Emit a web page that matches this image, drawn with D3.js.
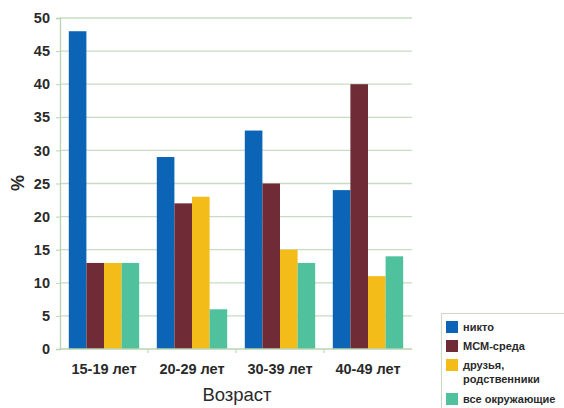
<!DOCTYPE html>
<html>
<head>
<meta charset="utf-8">
<script src="https://cdn.jsdelivr.net/npm/d3@7"></script>
<style>
  body { margin: 0; background: #fff; }
  svg { display: block; font-family: "Liberation Sans", Arial, sans-serif; }
</style>
</head>
<body>
<svg id="chart" width="564" height="408"></svg>
<script>
// Age groups and answer series (percent)
const categories = ["15-19 лет", "20-29 лет", "30-39 лет", "40-49 лет"];
const seriesNames = ["никто", "МСМ-среда", "друзья,\nродственники", "все окружающие"];
const nikto      = [48, 29, 33, 24];
const msm        = [13, 22, 25, 40];
const druzya     = [13, 23, 15, 11];
const vse        = [13, 6, 13, 14];
const yTicks = [0, 5, 10, 15, 20, 25, 30, 35, 40, 45, 50];
const colors = ["#0b64b5", "#6f2b36", "#f4bc18", "#4fc19d"];

const seriesValues = [nikto, msm, druzya, vse];

const svg = d3.select("#chart");
const plotLeft = 60, plotRight = 412, plotTop = 18, plotBottom = 349;

const x = d3.scaleBand().domain(categories).range([plotLeft, plotRight]).paddingInner(0.2).paddingOuter(0.1);
const x1 = d3.scaleBand().domain(d3.range(seriesNames.length)).range([0, x.bandwidth()]);
const y = d3.scaleLinear().domain([0, 50]).range([plotBottom, plotTop]);

// horizontal gridlines
svg.append("g").selectAll("line").data(yTicks.filter(d => d > 0)).join("line")
  .attr("x1", plotLeft).attr("x2", plotRight)
  .attr("y1", d => y(d)).attr("y2", d => y(d))
  .attr("stroke", "#c9dcc2").attr("stroke-width", 1.3);

// bars
const groups = svg.append("g").selectAll("g").data(categories).join("g")
  .attr("transform", d => `translate(${x(d)},0)`);
groups.selectAll("rect")
  .data((c, ci) => seriesValues.map((vals, si) => ({ si, v: vals[ci] })))
  .join("rect")
  .attr("x", d => x1(d.si))
  .attr("width", x1.bandwidth())
  .attr("y", d => y(d.v))
  .attr("height", d => y(0) - y(d.v))
  .attr("fill", d => colors[d.si]);

// y axis
const yAxis = svg.append("g").attr("transform", `translate(${plotLeft},0)`)
  .call(d3.axisLeft(y).tickValues(yTicks).tickSize(4).tickPadding(6));
yAxis.select(".domain").attr("stroke", "#b9d3b0").attr("stroke-width", 1.3);
yAxis.selectAll(".tick line").attr("stroke", "#b9d3b0");
yAxis.selectAll("text").attr("font-size", 14.5).attr("font-weight", "bold").attr("fill", "#2a2a2a");

// x axis with separators between groups
const xAxisG = svg.append("g").attr("transform", `translate(0,${plotBottom})`);
xAxisG.append("line").attr("x1", plotLeft).attr("x2", plotRight).attr("stroke", "#b9d3b0").attr("stroke-width", 1.3);
const sepPositions = categories.slice(1).map(c => x(c) - x.step() * x.paddingInner() / 2);
xAxisG.selectAll("line.sep").data(sepPositions).join("line").attr("class", "sep")
  .attr("x1", d => d).attr("x2", d => d).attr("y1", 0).attr("y2", 4)
  .attr("stroke", "#b9d3b0");
xAxisG.selectAll("text").data(categories).join("text")
  .attr("x", d => x(d) + x.bandwidth() / 2).attr("y", 25)
  .attr("text-anchor", "middle").attr("font-size", 14.5).attr("font-weight", "bold")
  .attr("fill", "#2a2a2a").text(d => d);

// axis titles
svg.append("text").attr("x", 237).attr("y", 401).attr("text-anchor", "middle")
  .attr("font-size", 18.5).attr("fill", "#2a2a2a").text("Возраст");
svg.append("text").attr("transform", "translate(24,183) rotate(-90)")
  .attr("text-anchor", "middle").attr("font-size", 18).attr("font-weight", "bold")
  .attr("fill", "#2a2a2a").text("%");

// legend
const legend = svg.append("g");
legend.append("rect").attr("x", 441.5).attr("y", 313.5).attr("width", 130).attr("height", 100)
  .attr("fill", "#fff").attr("stroke", "#c9dcc2");
const itemY = [321, 340, 359, 393];
seriesNames.forEach((name, i) => {
  legend.append("rect").attr("x", 446).attr("y", itemY[i]).attr("width", 12).attr("height", 12)
    .attr("fill", colors[i]);
  const t = legend.append("text").attr("x", 463).attr("y", itemY[i] + 10)
    .attr("font-size", 11).attr("font-weight", "bold").attr("fill", "#2a2a2a");
  name.split("\n").forEach((line, li) => {
    t.append("tspan").attr("x", 463).attr("dy", li === 0 ? 0 : 14).text(line);
  });
});
</script>
</body>
</html>
